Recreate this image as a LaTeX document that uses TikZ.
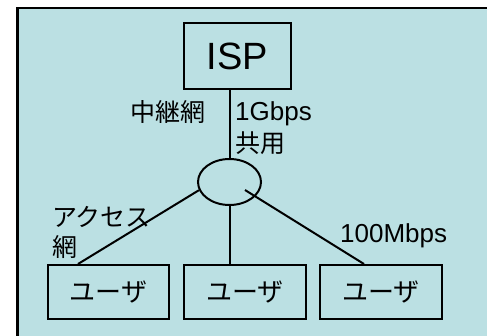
\documentclass[tikz,border=0pt]{standalone}
\usepackage{fontspec}
\setmainfont{Liberation Sans}
\newfontfamily\jp{Noto Sans CJK JP}
\usetikzlibrary{shapes.geometric,calc}
\definecolor{panel}{HTML}{BBE0E3}
\tikzset{
  box/.style={draw=black, line width=2pt, inner sep=0pt, minimum height=54pt, minimum width=122pt, font=\jp\fontsize{26}{30}\selectfont},
  link/.style={draw=black, line width=2pt},
  lbl/.style={inner sep=0pt, font=\fontsize{26}{30}\selectfont},
  jlbl/.style={inner sep=0pt, font=\jp\fontsize{25}{30}\selectfont},
}
\begin{document}
\begin{tikzpicture}[x=1pt,y=-1pt]
  \useasboundingbox (0,0) rectangle (487,335);
  % panel with frame on top and left
  \fill[panel] (17.5,8) rectangle (490,340);
  \draw[line width=2.5pt] (17.5,340) -- (17.5,8) -- (490,8);

  % nodes
  \node[box, minimum width=107pt, minimum height=66pt, font=\fontsize{38}{40}\selectfont] (isp) at (237.5,56) {ISP};
  \node[draw=black, line width=2pt, ellipse, inner sep=0pt, minimum width=63pt, minimum height=46pt] (hub) at (229.5,182) {};
  \node[box, minimum width=121pt] (u1) at (108.5,292) {ユーザ};
  \node[box] (u2) at (245,292) {ユーザ};
  \node[box] (u3) at (381,292) {ユーザ};

  % connectors
  \draw[link] (hub.north |- isp.south) -- (hub.north);
  \draw[link] (hub.195) -- ($(u1.north west)+(31,0)$);
  \draw[link] (hub.south) -- (hub.south |- u2.north);
  \draw[link] ($(hub.center)+(15.5,8)$) -- ($(u3.north west)+(45,0)$);

  % labels
  \node[jlbl, anchor=base east] (relay) at (206,121) {中継網};
  \node[lbl, anchor=base west] (gbps) at (235,120) {1Gbps};
  \node[jlbl, anchor=base west] (shared) at (235,152) {共用};
  \node[jlbl, anchor=base west] (access) at (52,226) {アクセス};
  \node[jlbl, anchor=base west] (accnet) at (52,256) {網};
  \node[lbl, anchor=base west] (mbps) at (340,242) {100Mbps};
\end{tikzpicture}
\end{document}
